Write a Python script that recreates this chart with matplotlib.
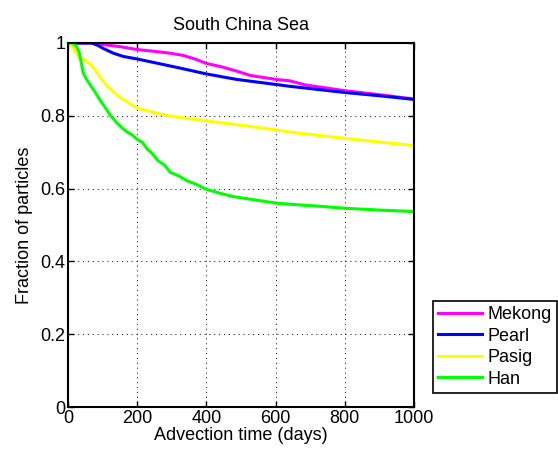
import numpy as np
import matplotlib.pyplot as plt
from matplotlib.ticker import MultipleLocator

plt.rcParams['font.family'] = ['Liberation Sans', 'DejaVu Sans']

# advection time (days) and fraction of particles
mekong_t = [0, 70, 100, 150, 200, 250, 295, 333, 370, 400, 450, 487, 526, 601, 641, 685, 800, 900, 1000]
mekong_f = [1.0, 1.0, 0.996, 0.99, 0.982, 0.977, 0.972, 0.966, 0.955, 0.944, 0.933, 0.923, 0.911, 0.900, 0.896, 0.885, 0.869, 0.858, 0.846]

pearl_t = [0, 68, 85, 102, 131, 160, 200, 260, 324, 400, 487, 601, 641, 800, 900, 1000]
pearl_f = [1.0, 1.0, 0.994, 0.985, 0.972, 0.963, 0.956, 0.944, 0.931, 0.915, 0.900, 0.886, 0.881, 0.864, 0.855, 0.845]

pasig_t = [0, 10, 22, 35, 50, 64, 80, 92, 110, 131, 150, 170, 200, 266, 295, 400, 500, 603, 641, 800, 900, 1000]
pasig_f = [1.0, 0.995, 0.975, 0.957, 0.952, 0.942, 0.925, 0.907, 0.885, 0.866, 0.851, 0.839, 0.821, 0.805, 0.799, 0.786, 0.774, 0.761, 0.755, 0.738, 0.728, 0.718]

han_t = [0, 15, 25, 32, 38, 44, 54, 64, 78, 92, 108, 122, 140, 155, 170, 185, 200, 215, 230, 245, 260, 280, 295, 320, 343, 370, 400, 440, 478, 540, 603, 641, 720, 800, 900, 1000]
han_f = [1.0, 1.0, 0.99, 0.975, 0.948, 0.918, 0.900, 0.885, 0.866, 0.844, 0.822, 0.802, 0.782, 0.768, 0.756, 0.748, 0.735, 0.727, 0.708, 0.695, 0.677, 0.664, 0.645, 0.635, 0.622, 0.612, 0.598, 0.587, 0.578, 0.569, 0.560, 0.557, 0.552, 0.546, 0.541, 0.537]

series = [("Mekong", mekong_t, mekong_f, "#ff00ff"),
          ("Pearl", pearl_t, pearl_f, "#0000ff"),
          ("Pasig", pasig_t, pasig_f, "#ffff00"),
          ("Han", han_t, han_f, "#00ff00")]

fig = plt.figure(figsize=(5.58, 4.54), dpi=100)
ax = fig.add_axes([0.1219, 0.1035, 0.62, 0.8018])

for name, t, f, c in series:
    ax.plot(t, f, color=c, lw=2.2, label=name)

ax.set_xlim(0, 1000)
ax.set_ylim(0, 1)
ax.xaxis.set_major_locator(MultipleLocator(200))
ax.set_yticks([0, 0.2, 0.4, 0.6, 0.8, 1])
ax.set_yticklabels(['0', '0.2', '0.4', '0.6', '0.8', '1'])
ax.tick_params(direction='in', top=True, right=True, labelsize=13, length=4, width=1, pad=2)
ax.grid(True, linestyle=(0, (1, 4)), color='k', linewidth=0.7)
for s in ax.spines.values():
    s.set_linewidth(1.5)

ax.set_title("South China Sea", fontsize=13, pad=9)
ax.set_xlabel("Advection time (days)", fontsize=13, labelpad=0)
ax.set_ylabel("Fraction of particles", fontsize=13, labelpad=5)

leg = fig.legend(loc='lower left', bbox_to_anchor=(0.776, 0.1344), borderaxespad=0,
                 fontsize=13, fancybox=False, edgecolor='k', framealpha=1,
                 handlelength=2.4, handletextpad=0.3, labelspacing=0.25, borderpad=0.3)
leg.get_frame().set_linewidth(1.2)

fig.savefig("out.png", dpi=100)
